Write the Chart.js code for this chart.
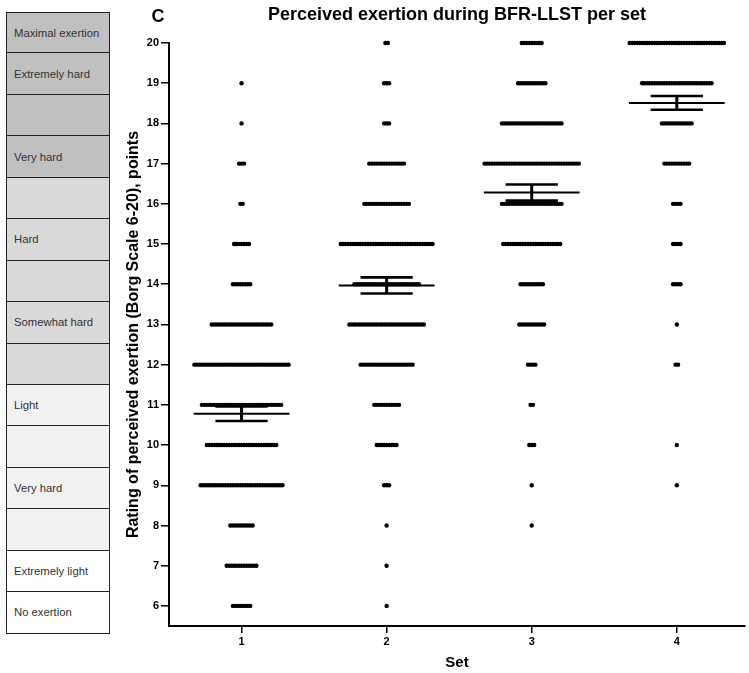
<!DOCTYPE html>
<html>
<head>
<meta charset="utf-8">
<script src="https://cdn.jsdelivr.net/npm/chart.js@4/dist/chart.umd.min.js"></script>
<style>
  body { margin: 0; background: #fff; }
  #wrap { position: relative; width: 749px; height: 673px; }
  #chart { position: absolute; left: 0; top: 0; }
  #borg { position: absolute; left: 6px; top: 12px; width: 104px; }
  .row {
    box-sizing: border-box; height: 41.45px;
    border: 1px solid #222; border-top: none;
    font: 11.3px "Liberation Sans", Arial, sans-serif; color: #333;
    padding-left: 7px; display: flex; align-items: center;
  }
  .row:first-child { border-top: 1px solid #222; }
</style>
</head>
<body>
<div id="wrap">
  <canvas id="chart" width="749" height="673"></canvas>
  <div id="borg"></div>
</div>
<script>
// Borg scale values and the number of ratings at each value, per set
const scores = [6, 7, 8, 9, 10, 11, 12, 13, 14, 15, 16, 17, 18, 19, 20];
const set1 = [8, 13, 10, 34, 29, 33, 39, 25, 8, 7, 2, 3, 1, 1, 0];
const set2 = [1, 1, 1, 3, 9, 11, 22, 31, 27, 38, 19, 15, 3, 3, 2];
const set3 = [0, 0, 1, 1, 3, 2, 4, 11, 10, 24, 25, 39, 25, 12, 9];
const set4 = [0, 0, 0, 1, 1, 0, 2, 1, 4, 4, 4, 11, 13, 29, 39];

const sets = [1, 2, 3, 4];
const means = [10.78, 13.97, 16.28, 18.51];
const sem = [0.18, 0.2, 0.2, 0.17];

// table on the left (top row = 20)
const rowLabels = ['Maximal exertion', 'Extremely hard', '', 'Very hard', '', 'Hard', '',
  'Somewhat hard', '', 'Light', '', 'Very hard', '', 'Extremely light', 'No exertion'];
const rowShades = ['#c0c0c0', '#c0c0c0', '#c0c0c0', '#c0c0c0', '#d9d9d9', '#d9d9d9', '#d9d9d9',
  '#d9d9d9', '#d9d9d9', '#f2f2f2', '#f2f2f2', '#f2f2f2', '#f2f2f2', '#fff', '#fff'];

const borg = document.getElementById('borg');
rowLabels.forEach((lab, i) => {
  let d = document.createElement('div');
  d.className = 'row';
  d.style.background = rowShades[i];
  d.textContent = lab;
  borg.appendChild(d);
});

const font = '"Liberation Sans", Arial, sans-serif';
const step = 0.0171;   // horizontal gap between stacked dots, in x units

let dots = [];
[set1, set2, set3, set4].forEach((counts, si) => {
  counts.forEach((n, k) => {
    for (let j = 0; j < n; j++) {
      dots.push({ x: sets[si] + (j - (n - 1) / 2) * step, y: scores[k] });
    }
  });
});

let meanPts = [], capPts = [], stemPts = [];
sets.forEach((s, i) => {
  meanPts.push({ x: s - 0.33, y: means[i] }, { x: s + 0.33, y: means[i] }, { x: s, y: null });
  capPts.push({ x: s - 0.18, y: means[i] + sem[i] }, { x: s + 0.18, y: means[i] + sem[i] }, { x: s, y: null });
  capPts.push({ x: s - 0.18, y: means[i] - sem[i] }, { x: s + 0.18, y: means[i] - sem[i] }, { x: s, y: null });
  stemPts.push({ x: s, y: means[i] - sem[i] }, { x: s, y: means[i] + sem[i] }, { x: s, y: null });
});

const panelLetter = {
  id: 'panelLetter',
  afterDraw(chart) {
    let ctx = chart.ctx;
    ctx.save();
    ctx.font = 'bold 18px ' + font;
    ctx.fillStyle = '#000';
    ctx.textAlign = 'center';
    ctx.textBaseline = 'middle';
    ctx.fillText('C', 158, 17);
    ctx.restore();
  }
};

const lineSet = (data, w) => ({
  data: data, showLine: true, spanGaps: false, borderColor: '#000',
  borderWidth: w, pointRadius: 0, clip: false, order: 0
});

new Chart(document.getElementById('chart'), {
  type: 'scatter',
  data: {
    datasets: [
      {
        data: dots, pointRadius: 2.2, pointBorderWidth: 0,
        pointBackgroundColor: '#000', clip: false, order: 1
      },
      lineSet(meanPts, 2),
      lineSet(capPts, 2.6),
      lineSet(stemPts, 3)
    ]
  },
  options: {
    responsive: false,
    animation: false,
    layout: { padding: { left: 110, right: 1, top: 0, bottom: 0 } },
    plugins: {
      legend: { display: false },
      tooltip: { enabled: false },
      title: {
        display: true, fullSize: false,
        text: 'Perceived exertion during BFR-LLST per set',
        color: '#000', font: { family: font, size: 18, weight: 'bold' },
        padding: { top: 4, bottom: 17.4 }
      }
    },
    scales: {
      x: {
        type: 'linear', min: 0.5, max: 4.47,
        afterBuildTicks: s => { s.ticks = sets.map(v => ({ value: v })); },
        afterFit: s => { s.height = 47; },
        grid: { drawOnChartArea: false, tickLength: 7, color: '#000', lineWidth: 1.5 },
        border: { color: '#000', width: 2 },
        ticks: { color: '#000', padding: 2, font: { family: font, size: 11, weight: 'bold' } },
        title: {
          display: true, text: 'Set', color: '#000',
          font: { family: font, size: 15, weight: 'bold' }, padding: { top: 0, bottom: 1 }
        }
      },
      y: {
        type: 'linear', min: 5.5, max: 20,
        afterBuildTicks: s => { s.ticks = scores.map(v => ({ value: v })); },
        afterFit: s => { s.width = 59; },
        grid: { drawOnChartArea: false, tickLength: 8, color: '#000', lineWidth: 1.5 },
        border: { color: '#000', width: 2 },
        ticks: { color: '#000', padding: 2, font: { family: font, size: 11, weight: 'bold' } },
        title: {
          display: true, text: 'Rating of perceived exertion (Borg Scale 6-20), points',
          color: '#000', font: { family: font, size: 16, weight: 'bold' },
          padding: { top: 14, bottom: 0 }
        }
      }
    }
  },
  plugins: [panelLetter]
});
</script>
</body>
</html>
